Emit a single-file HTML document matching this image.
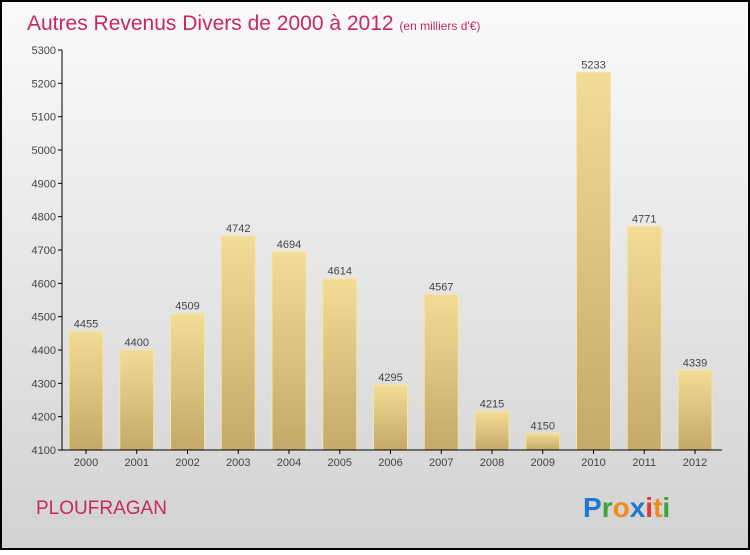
<!DOCTYPE html>
<html><head><meta charset="utf-8"><style>
body{margin:0;width:750px;height:550px;overflow:hidden;font-family:"Liberation Sans",sans-serif}
</style></head><body>
<svg width="750" height="550" xmlns="http://www.w3.org/2000/svg">
<defs>
<linearGradient id="bg" x1="0" y1="0" x2="0" y2="1"><stop offset="0" stop-color="#fafafa"/><stop offset="1" stop-color="#d2d2d2"/></linearGradient>
<linearGradient id="bar" x1="0" y1="0" x2="0" y2="1"><stop offset="0" stop-color="#f3dc95"/><stop offset="1" stop-color="#c4a968"/></linearGradient>
</defs>
<rect x="1" y="1" width="748" height="548" fill="url(#bg)" stroke="#000" stroke-width="2"/>
<text x="27" y="30" font-size="21" fill="#c8285e">Autres Revenus Divers de 2000 à 2012 <tspan font-size="12">(en milliers d'€)</tspan></text>
<g id="plot"></g>
<text x="36" y="514" font-size="19" fill="#c8285e">PLOUFRAGAN</text>
<text x="583" y="517" font-size="28" font-weight="bold"><tspan fill="#1f78d1">P</tspan><tspan fill="#3aa43a">r</tspan><tspan fill="#f28a1a">o</tspan><tspan fill="#1f78d1">x</tspan><tspan fill="#e03a2a">i</tspan><tspan fill="#f28a1a">t</tspan><tspan fill="#3aa43a">i</tspan></text>
</svg>
<script>
const years=["2000","2001","2002","2003","2004","2005","2006","2007","2008","2009","2010","2011","2012"];
const values=[4455,4400,4509,4742,4694,4614,4295,4567,4215,4150,5233,4771,4339];
const ticks=[4100,4200,4300,4400,4500,4600,4700,4800,4900,5000,5100,5200,5300];
const NS="http://www.w3.org/2000/svg",g=document.getElementById('plot');
const y0=450,y1=50,vmin=4100,vmax=5300,xl=62,step=50.75,bw=34;
const Y=v=>y0-(v-vmin)/(vmax-vmin)*(y0-y1);
const X=i=>86+i*step;
function mk(t,a,p){const e=document.createElementNS(NS,t);for(const k in a)e.setAttribute(k,a[k]);(p||g).appendChild(e);return e;}
ticks.forEach(t=>{
const l=mk('line',{x1:xl-4,x2:xl,y1:Y(t),y2:Y(t),stroke:'#000'});


const tx=mk('text',{x:xl-6,y:Y(t)+4,'font-size':11,'text-anchor':'end',fill:'#444'});tx.textContent=t;


});
values.forEach((v,i)=>{
const r=mk('rect',{x:X(i)-bw/2,y:Y(v),width:bw,height:y0-Y(v),fill:'url(#bar)',stroke:'#f6e6a8','stroke-width':1});


const t=mk('text',{x:X(i),y:Y(v)-4,'font-size':11,'text-anchor':'middle',fill:'#444'});t.textContent=v;


const xt=mk('text',{x:X(i),y:466,'font-size':11,'text-anchor':'middle',fill:'#444'});xt.textContent=years[i];


const tk=mk('line',{x1:X(i),x2:X(i),y1:y0,y2:y0+4,stroke:'#000'});


});
const ya=mk('line',{x1:xl,x2:xl,y1:y1,y2:y0,stroke:'#000'});


const xa=mk('line',{x1:xl,x2:722,y1:y0,y2:y0,stroke:'#000'});


</script>
</body></html>
